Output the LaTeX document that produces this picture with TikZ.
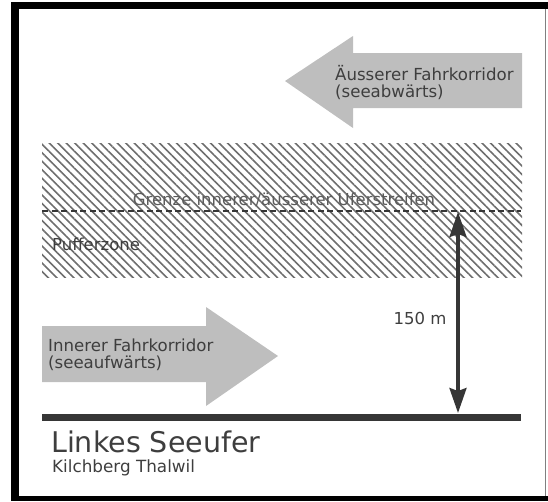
\documentclass[tikz,border=0pt]{standalone}
\usepackage{fontspec}
\setmainfont{DejaVu Sans}
\usetikzlibrary{arrows.meta,patterns.meta}

\definecolor{corridorgray}{HTML}{BEBEBE}
\definecolor{labelink}{HTML}{3E3E3E}
\definecolor{shoreink}{HTML}{363636}
\definecolor{hatchgray}{HTML}{6E6E6E}

\tikzset{corridor arrow/.style={fill=corridorgray,draw=none},
buffer band/.style={pattern={Lines[angle=-45,distance=6pt,line width=1.6pt]},pattern color=hatchgray},
corridor label/.style={font=\fontsize{16.6}{17}\selectfont,text=labelink,anchor=base west,align=left,inner sep=0pt},
zone label/.style={font=\fontsize{16.5}{17}\selectfont,text=labelink,anchor=base,inner sep=0pt},
shore title/.style={font=\fontsize{28.5}{30}\selectfont,text=labelink,anchor=base west,inner sep=0pt},
shore sub/.style={font=\fontsize{16.8}{17}\selectfont,text=labelink,anchor=base west,inner sep=0pt},
dimension/.style={draw=shoreink,line width=3.2pt,{Stealth[length=25pt,width=17pt,inset=3pt]}-{Stealth[length=25pt,width=17pt,inset=3pt]}}}

\begin{document}
\begin{tikzpicture}[x=1pt,y=-1pt]
\useasboundingbox (0,0) rectangle (548,501);

%% frame
\fill[black] (11,2) rectangle (548,9);
\fill[black] (11,2) rectangle (19,501);
\fill[black] (11,496) rectangle (548,501);
\draw[gray,line width=1pt] (545,9) -- (545,496);

%% coordinates
\coordinate (band nw) at (42,143);
\coordinate (band se) at (522,277);
\coordinate (limit w) at (42,211);
\coordinate (limit e) at (521,211);
\coordinate (shore w) at (42,417);
\coordinate (shore e) at (521,417);
\coordinate (dim top) at (458,212);
\coordinate (dim bot) at (458,413);

%% outer corridor (pointing left)
\fill[corridor arrow] (285,81) -- (353,36) -- (353,53) -- (522,53) -- (522,108)
  -- (353,108) -- (353,128) -- cycle;
\node[corridor label] (outer) at (335,97) {Äusserer Fahrkorridor\\(seeabwärts)};

%% buffer zone
\fill[buffer band] (band nw) rectangle (band se);
\draw[shoreink,line width=1.8pt,dash pattern=on 6pt off 3.5pt] (limit w) -- (limit e);
\node[zone label,text=labelink!85] (limit) at (284,205) {Grenze innerer/äusserer Uferstreifen};
\node[zone label,anchor=base west] (buffer) at (52,250) {Pufferzone};

%% inner corridor (pointing right)
\fill[corridor arrow] (42,326) -- (206,326) -- (206,307) -- (278,356)
  -- (206,406) -- (206,382) -- (42,382) -- cycle;
\node[corridor label] (inner) at (48,368) {Innerer Fahrkorridor\\(seeaufwärts)};

%% distance to shore
\draw[dimension] (dim top) -- (dim bot);
\node[zone label] (dist) at (420,324) {150 m};

%% shore line
\draw[shoreink,line width=7pt] (shore w) -- (shore e);
\node[shore title] (shore) at (51,452) {Linkes Seeufer};
\node[shore sub] (towns) at (52,472) {Kilchberg Thalwil};

\end{tikzpicture}
\end{document}
